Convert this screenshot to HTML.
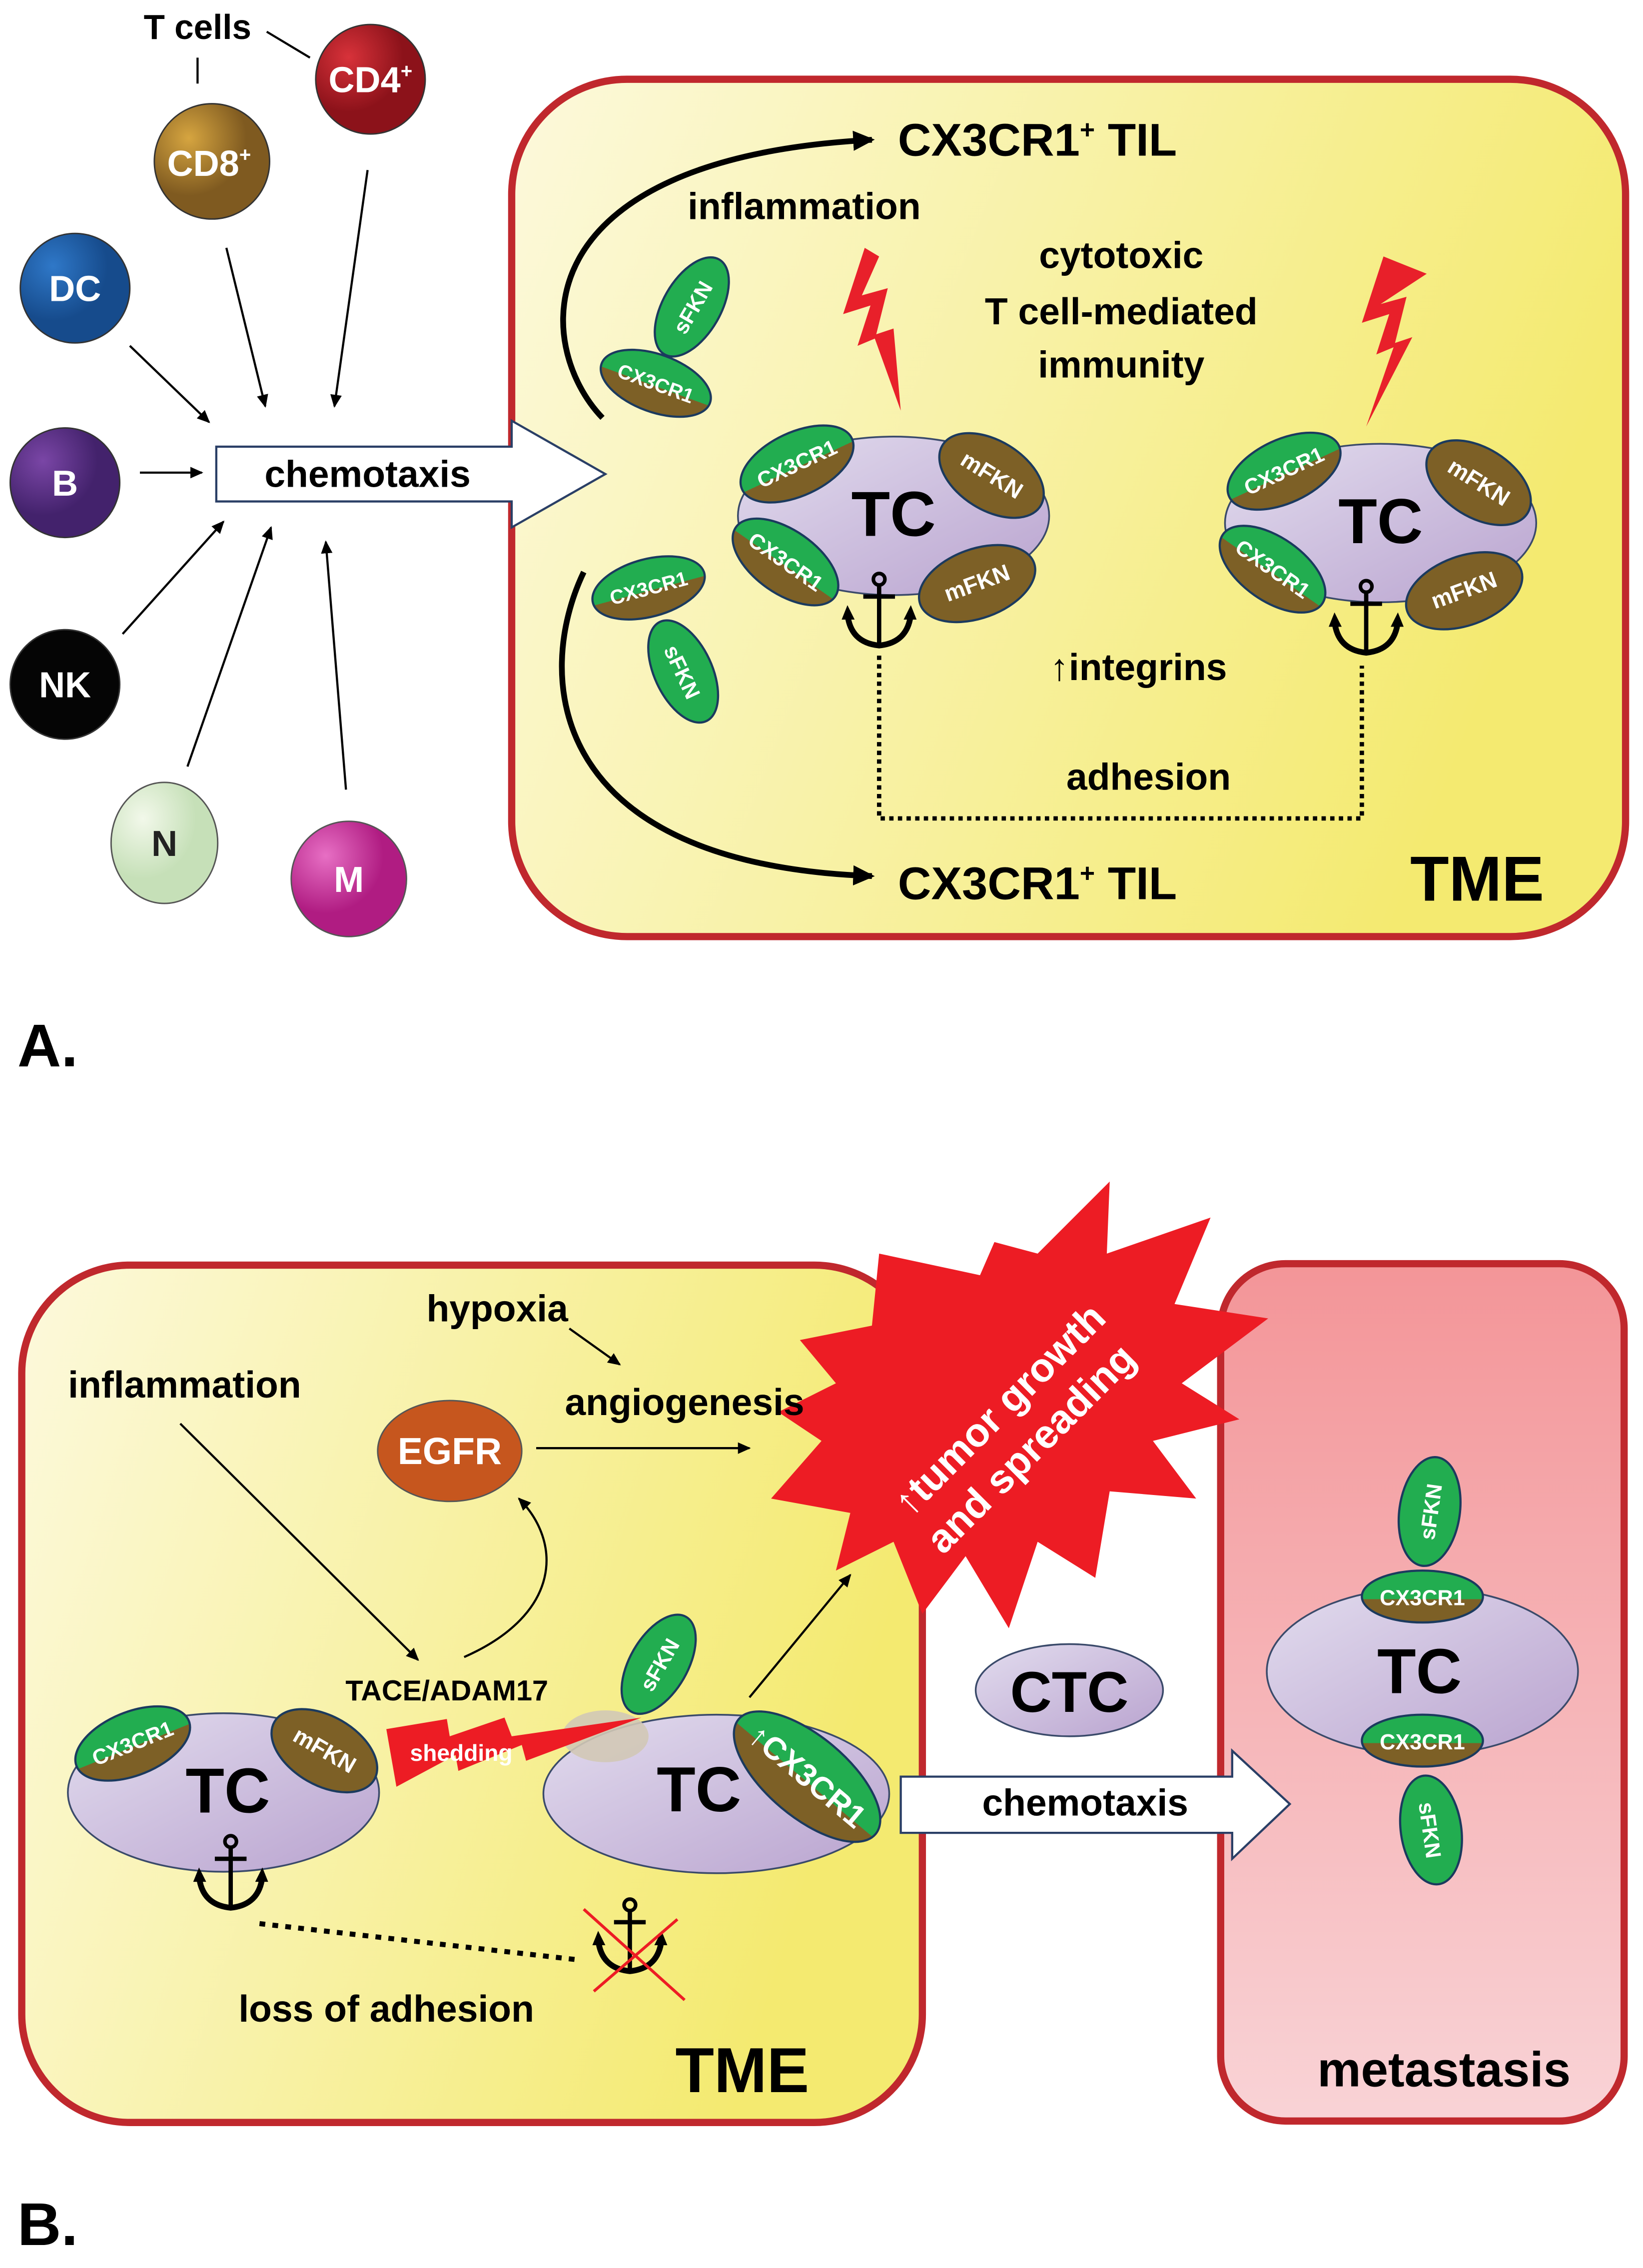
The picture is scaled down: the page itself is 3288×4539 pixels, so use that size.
<!DOCTYPE html>
<html><head><meta charset="utf-8"><style>html,body{margin:0;padding:0;background:#fff}svg{display:block}text{font-family:"Liberation Sans",sans-serif;font-weight:bold}</style></head><body>
<svg width="3288" height="4539" viewBox="0 0 1140 1574" xmlns="http://www.w3.org/2000/svg">
<defs>
<linearGradient id="tme" x1="0" y1="0" x2="1" y2="0.3"><stop offset="0" stop-color="#fcf9dc"/><stop offset="1" stop-color="#f4ea70"/></linearGradient>
<linearGradient id="met" x1="0" y1="0" x2="0" y2="1"><stop offset="0" stop-color="#f39598"/><stop offset="1" stop-color="#f9d3d6"/></linearGradient>
<linearGradient id="cell" x1="0" y1="0" x2="1" y2="1"><stop offset="0" stop-color="#e2dcee"/><stop offset="1" stop-color="#b9a3cf"/></linearGradient>
<linearGradient id="half" x1="0" y1="0" x2="0" y2="1"><stop offset="0" stop-color="#22ad50"/><stop offset="0.55" stop-color="#22ad50"/><stop offset="0.55" stop-color="#7d6026"/><stop offset="1" stop-color="#7d6026"/></linearGradient>
<radialGradient id="cd4" cx="0.3" cy="0.3"><stop offset="0" stop-color="#d8323a"/><stop offset="1" stop-color="#8c121a"/></radialGradient>
<radialGradient id="cd8" cx="0.3" cy="0.3"><stop offset="0" stop-color="#d6a540"/><stop offset="1" stop-color="#7f5a20"/></radialGradient>
<radialGradient id="dc" cx="0.3" cy="0.3"><stop offset="0" stop-color="#2f78c8"/><stop offset="1" stop-color="#164b8c"/></radialGradient>
<radialGradient id="bb" cx="0.3" cy="0.3"><stop offset="0" stop-color="#7a46a6"/><stop offset="1" stop-color="#43226c"/></radialGradient>
<radialGradient id="nn" cx="0.3" cy="0.3"><stop offset="0" stop-color="#f2f8ea"/><stop offset="1" stop-color="#c6e0b8"/></radialGradient>
<radialGradient id="mm" cx="0.3" cy="0.3"><stop offset="0" stop-color="#e76fc4"/><stop offset="1" stop-color="#b01c82"/></radialGradient>
<marker id="ah" markerWidth="10" markerHeight="10" refX="8" refY="5" orient="auto" markerUnits="userSpaceOnUse"><path d="M0,1 L9,5 L0,9 Z" fill="#000"/></marker>
<marker id="ahb" markerWidth="16" markerHeight="16" refX="13" refY="8" orient="auto" markerUnits="userSpaceOnUse"><path d="M0,1 L15,8 L0,15 Z" fill="#000"/></marker>
<g id="anchor"><circle cx="0" cy="-30" r="4" fill="none" stroke="#000" stroke-width="2.5"/><line x1="0" y1="-26" x2="0" y2="14" stroke="#000" stroke-width="3"/><line x1="-11" y1="-18" x2="11" y2="-18" stroke="#000" stroke-width="3"/><path d="M-22,-6 Q-20,14 0,16 Q20,14 22,-6" fill="none" stroke="#000" stroke-width="4"/><path d="M-26,-2 L-22,-12 L-17,-2 Z M26,-2 L22,-12 L17,-2Z" fill="#000"/></g>
</defs>

<!-- Panel A left -->
<text x="137" y="27" font-size="24" text-anchor="middle">T cells</text>
<line x1="137" y1="40" x2="137" y2="58" stroke="#000" stroke-width="1.5"/>
<line x1="185" y1="22" x2="215" y2="40" stroke="#000" stroke-width="1.5"/>
<circle cx="257" cy="55" r="38" fill="url(#cd4)" stroke="#333" stroke-width="1"/>
<text x="257" y="64" font-size="25" fill="#fff" text-anchor="middle">CD4<tspan font-size="14" dy="-10">+</tspan></text>
<circle cx="147" cy="112" r="40" fill="url(#cd8)" stroke="#333" stroke-width="1"/>
<text x="145" y="122" font-size="25" fill="#fff" text-anchor="middle">CD8<tspan font-size="14" dy="-10">+</tspan></text>
<circle cx="52" cy="200" r="38" fill="url(#dc)" stroke="#333"/>
<text x="52" y="209" font-size="25" fill="#fff" text-anchor="middle">DC</text>
<circle cx="45" cy="335" r="38" fill="url(#bb)" stroke="#333"/>
<text x="45" y="344" font-size="25" fill="#fff" text-anchor="middle">B</text>
<circle cx="45" cy="475" r="38" fill="#050505" stroke="#333"/>
<text x="45" y="484" font-size="25" fill="#fff" text-anchor="middle">NK</text>
<ellipse cx="114" cy="585" rx="37" ry="42" fill="url(#nn)" stroke="#555"/>
<text x="114" y="594" font-size="25" fill="#222" text-anchor="middle">N</text>
<circle cx="242" cy="610" r="40" fill="url(#mm)" stroke="#555"/>
<text x="242" y="619" font-size="25" fill="#fff" text-anchor="middle">M</text>
<g stroke="#000" stroke-width="1.5" marker-end="url(#ah)">
<line x1="90" y1="240" x2="145" y2="293"/>
<line x1="97" y1="328" x2="140" y2="328"/>
<line x1="85" y1="440" x2="155" y2="362"/>
<line x1="130" y1="532" x2="188" y2="366"/>
<line x1="240" y1="548" x2="226" y2="376"/>
<line x1="157" y1="172" x2="184" y2="282"/>
<line x1="255" y1="118" x2="232" y2="282"/>
</g>

<!-- TME A -->
<rect x="355" y="55" width="773" height="595" rx="80" fill="url(#tme)" stroke="#c0282d" stroke-width="5"/>
<path d="M150,310 L355,310 L355,292 L420,329 L355,366 L355,348 L150,348 Z" fill="#fff" stroke="#2a3f66" stroke-width="1.5"/>
<text x="255" y="338" font-size="26" text-anchor="middle">chemotaxis</text>
<path d="M418,290 C370,240 360,110 605,97" fill="none" stroke="#000" stroke-width="4" marker-end="url(#ahb)"/>
<path d="M405,397 C370,470 380,600 605,608" fill="none" stroke="#000" stroke-width="4" marker-end="url(#ahb)"/>
<text x="623" y="108" font-size="32">CX3CR1<tspan font-size="18" dy="-12">+</tspan><tspan dy="12"> TIL</tspan></text>
<text x="623" y="624" font-size="32">CX3CR1<tspan font-size="18" dy="-12">+</tspan><tspan dy="12"> TIL</tspan></text>
<text x="558" y="152" font-size="26" text-anchor="middle">inflammation</text>
<text x="778" y="186" font-size="26" text-anchor="middle">cytotoxic</text>
<text x="778" y="225" font-size="26" text-anchor="middle">T cell-mediated</text>
<text x="778" y="262" font-size="26" text-anchor="middle">immunity</text>
<path d="M600,172 L585,218 L604,212 L595,240 L607,235 L625,285 L620,228 L608,232 L616,200 L598,205 L610,178 Z" fill="#e8202a"/>
<path d="M960,178 L945,224 L964,218 L955,246 L967,241 L948,296 L980,234 L968,238 L976,206 L958,211 L990,190 Z" fill="#e8202a"/>
<g transform="translate(480,213) rotate(-60)"><ellipse rx="38" ry="20" fill="#22ad50" stroke="#1b3a5e" stroke-width="1.5"/><text y="6" font-size="15" font-weight="normal" fill="#fff" text-anchor="middle">sFKN</text></g>
<g transform="translate(455,266) rotate(20)"><ellipse rx="40" ry="20" fill="url(#half)" stroke="#1b3a5e" stroke-width="1.5"/><text y="5" font-size="14" font-weight="normal" fill="#fff" text-anchor="middle">CX3CR1</text></g>
<g transform="translate(450,408) rotate(-15)"><ellipse rx="40" ry="20" fill="url(#half)" stroke="#1b3a5e" stroke-width="1.5"/><text y="5" font-size="14" font-weight="normal" fill="#fff" text-anchor="middle">CX3CR1</text></g>
<g transform="translate(474,466) rotate(65)"><ellipse rx="38" ry="20" fill="#22ad50" stroke="#1b3a5e" stroke-width="1.5"/><text y="6" font-size="15" font-weight="normal" fill="#fff" text-anchor="middle">sFKN</text></g>

<!-- TC cells A -->
<g id="tcA">
<ellipse cx="620" cy="358" rx="108" ry="55" fill="url(#cell)" stroke="#3a4a6a" stroke-width="1.2"/>
<g transform="translate(553,322) rotate(-25)"><ellipse rx="42" ry="22" fill="url(#half)" stroke="#1b3a5e" stroke-width="1.5"/><text y="5" font-size="15" font-weight="normal" fill="#fff" text-anchor="middle">CX3CR1</text></g>
<g transform="translate(688,330) rotate(32)"><ellipse rx="40" ry="24" fill="#7d6026" stroke="#1b3a5e" stroke-width="1.5"/><text y="5" font-size="16" font-weight="normal" fill="#fff" text-anchor="middle">mFKN</text></g>
<g transform="translate(545,390) rotate(35)"><ellipse rx="42" ry="22" fill="url(#half)" stroke="#1b3a5e" stroke-width="1.5"/><text y="5" font-size="15" font-weight="normal" fill="#fff" text-anchor="middle">CX3CR1</text></g>
<g transform="translate(678,405) rotate(-20)"><ellipse rx="42" ry="24" fill="#7d6026" stroke="#1b3a5e" stroke-width="1.5"/><text y="5" font-size="16" font-weight="normal" fill="#fff" text-anchor="middle">mFKN</text></g>
<text x="620" y="372" font-size="44" text-anchor="middle">TC</text>
<use href="#anchor" x="610" y="432"/>
</g>
<use href="#tcA" x="338" y="5"/>
<text x="790" y="472" font-size="26" text-anchor="middle">↑integrins</text>
<path d="M610,455 L610,568 L945,568 L945,462" fill="none" stroke="#000" stroke-width="3" stroke-dasharray="3,3"/>
<text x="797" y="548" font-size="26" text-anchor="middle">adhesion</text>
<text x="1025" y="625" font-size="44" text-anchor="middle">TME</text>
<text x="12" y="740" font-size="42">A.</text>

<!-- Panel B -->
<rect x="15" y="878" width="625" height="595" rx="75" fill="url(#tme)" stroke="#c0282d" stroke-width="5"/>
<rect x="847" y="877" width="280" height="595" rx="45" fill="url(#met)" stroke="#c0282d" stroke-width="5"/>
<path d="M610,870 L680,885 L690,862 L720,870 L770,820 L768,870 L840,845 L815,905 L880,915 L820,960 L860,985 L800,1000 L830,1040 L770,1035 L760,1095 L720,1070 L700,1130 L670,1080 L640,1120 L620,1070 L580,1090 L590,1050 L535,1040 L570,1000 L540,980 L580,960 L555,930 L605,920 Z" fill="#ed1c24"/>
<text transform="translate(700,985) rotate(-45)" font-size="28" fill="#fff" text-anchor="middle">↑tumor growth</text>
<text transform="translate(722,1012) rotate(-45)" font-size="28" fill="#fff" text-anchor="middle">and spreading</text>
<text x="345" y="917" font-size="26" text-anchor="middle">hypoxia</text>
<text x="128" y="970" font-size="26" text-anchor="middle">inflammation</text>
<text x="475" y="982" font-size="26" text-anchor="middle">angiogenesis</text>
<ellipse cx="312" cy="1007" rx="50" ry="35" fill="#c6561e" stroke="#555"/>
<text x="312" y="1016" font-size="26" fill="#fff" text-anchor="middle">EGFR</text>
<g stroke="#000" stroke-width="1.5" fill="none" marker-end="url(#ah)">
<line x1="395" y1="922" x2="430" y2="947"/>
<line x1="372" y1="1005" x2="520" y2="1005"/>
<line x1="125" y1="988" x2="290" y2="1152"/>
<path d="M322,1150 C390,1120 390,1070 360,1040"/>
<line x1="520" y1="1178" x2="590" y2="1093"/>
</g>
<text x="310" y="1180" font-size="20" font-weight="normal" text-anchor="middle">TACE/ADAM17</text>
<!-- left TC -->
<ellipse cx="155" cy="1244" rx="108" ry="55" fill="url(#cell)" stroke="#3a4a6a" stroke-width="1.2"/>
<g transform="translate(92,1210) rotate(-22)"><ellipse rx="42" ry="22" fill="url(#half)" stroke="#1b3a5e" stroke-width="1.5"/><text y="5" font-size="15" font-weight="normal" fill="#fff" text-anchor="middle">CX3CR1</text></g>
<g transform="translate(225,1215) rotate(30)"><ellipse rx="40" ry="24" fill="#7d6026" stroke="#1b3a5e" stroke-width="1.5"/><text y="5" font-size="16" font-weight="normal" fill="#fff" text-anchor="middle">mFKN</text></g>
<text x="158" y="1258" font-size="44" text-anchor="middle">TC</text>
<use href="#anchor" x="160" y="1308"/>
<!-- right TC -->
<ellipse cx="497" cy="1245" rx="120" ry="55" fill="url(#cell)" stroke="#3a4a6a" stroke-width="1.2"/>
<ellipse cx="420" cy="1205" rx="30" ry="18" fill="#d2c8b6" opacity="0.9"/>
<g transform="translate(560,1233) rotate(40)"><ellipse rx="62" ry="28" fill="url(#half)" stroke="#1b3a5e" stroke-width="1.5"/><text y="7" font-size="22" font-weight="normal" fill="#fff" text-anchor="middle">↑CX3CR1</text></g>
<text x="485" y="1257" font-size="44" text-anchor="middle">TC</text>
<g transform="translate(457,1155) rotate(-60)"><ellipse rx="38" ry="20" fill="#22ad50" stroke="#1b3a5e" stroke-width="1.5"/><text y="6" font-size="15" font-weight="normal" fill="#fff" text-anchor="middle">sFKN</text></g>
<path d="M268,1200 L310,1193 L312,1205 L350,1192 L355,1205 L445,1192 L365,1222 L362,1211 L318,1229 L316,1218 L275,1240 Z" fill="#ed1c24"/>
<text x="320" y="1222" font-size="16" font-weight="normal" fill="#fff" text-anchor="middle">shedding</text>
<path d="M180,1335 L400,1360" stroke="#000" stroke-width="3.5" stroke-dasharray="4,5"/>
<use href="#anchor" x="437" y="1352"/>
<line x1="405" y1="1325" x2="475" y2="1388" stroke="#ed1c24" stroke-width="2"/>
<line x1="470" y1="1332" x2="412" y2="1382" stroke="#ed1c24" stroke-width="2"/>
<text x="268" y="1403" font-size="26" text-anchor="middle">loss of adhesion</text>
<text x="515" y="1452" font-size="44" text-anchor="middle">TME</text>
<ellipse cx="742" cy="1173" rx="65" ry="32" fill="url(#cell)" stroke="#3a4a6a" stroke-width="1.2"/>
<text x="742" y="1188" font-size="40" text-anchor="middle">CTC</text>
<path d="M625,1233 L855,1233 L855,1215 L895,1252 L855,1290 L855,1272 L625,1272 Z" fill="#fff" stroke="#2a3f66" stroke-width="1.5"/>
<text x="753" y="1260" font-size="26" text-anchor="middle">chemotaxis</text>
<!-- metastasis TC -->
<ellipse cx="987" cy="1160" rx="108" ry="58" fill="url(#cell)" stroke="#3a4a6a" stroke-width="1.2"/>
<g transform="translate(992,1049) rotate(-82)"><ellipse rx="38" ry="21" fill="#22ad50" stroke="#1b3a5e" stroke-width="1.5"/><text y="6" font-size="15" font-weight="normal" fill="#fff" text-anchor="middle">sFKN</text></g>
<g transform="translate(993,1270) rotate(82)"><ellipse rx="38" ry="21" fill="#22ad50" stroke="#1b3a5e" stroke-width="1.5"/><text y="6" font-size="15" font-weight="normal" fill="#fff" text-anchor="middle">sFKN</text></g>
<ellipse cx="987" cy="1108" rx="42" ry="18" fill="url(#half)" stroke="#1b3a5e" stroke-width="1.5"/>
<text x="987" y="1114" font-size="15" font-weight="normal" fill="#fff" text-anchor="middle">CX3CR1</text>
<ellipse cx="987" cy="1208" rx="42" ry="18" fill="url(#half)" stroke="#1b3a5e" stroke-width="1.5"/>
<text x="987" y="1214" font-size="15" font-weight="normal" fill="#fff" text-anchor="middle">CX3CR1</text>
<text x="985" y="1175" font-size="44" text-anchor="middle">TC</text>
<text x="1002" y="1448" font-size="34" text-anchor="middle">metastasis</text>
<text x="12" y="1558" font-size="42">B.</text>
</svg>
</body></html>
